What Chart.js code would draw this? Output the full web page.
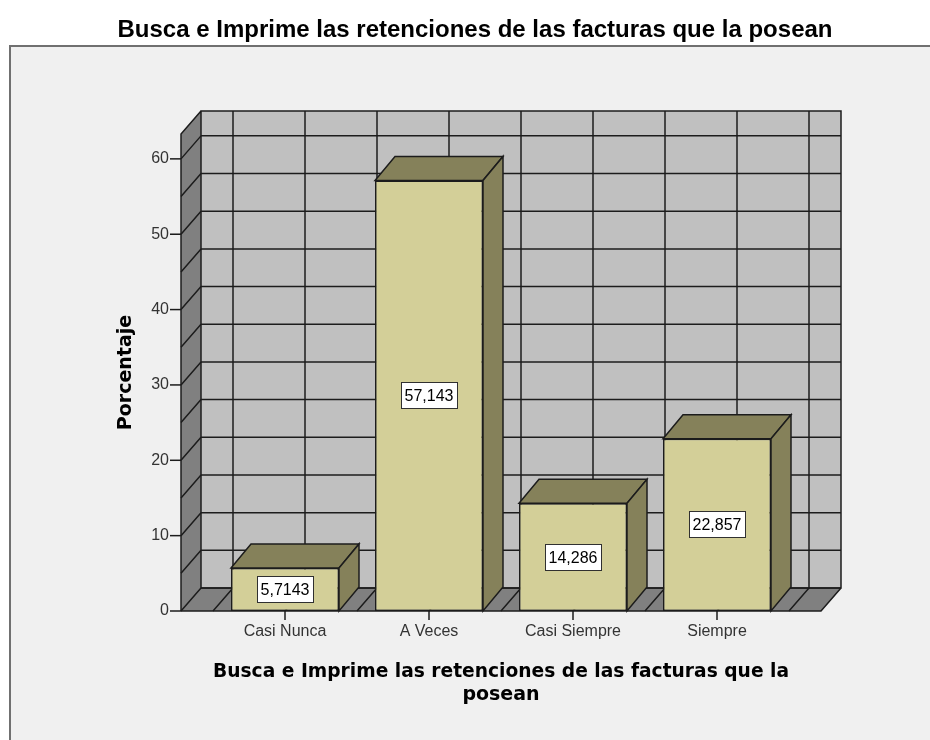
<!DOCTYPE html>
<html>
<head>
<meta charset="utf-8">
<script src="https://cdn.jsdelivr.net/npm/chart.js@4.4.1/dist/chart.umd.min.js"></script>
<style>
  html, body { margin: 0; padding: 0; background: #ffffff; }
  canvas { display: block; }
</style>
</head>
<body>
<canvas id="c" width="930" height="740"></canvas>
<script>
// ---- data ----
const categories = ['Casi Nunca', 'A Veces', 'Casi Siempre', 'Siempre'];
const percentages = [5.7143, 57.143, 14.286, 22.857];
const valueLabels = ['5,7143', '57,143', '14,286', '22,857'];
const yTicks = [0, 10, 20, 30, 40, 50, 60];
const yGridValues = [0, 5, 10, 15, 20, 25, 30, 35, 40, 45, 50, 55, 60];
const yMax = 63.3;
const chartTitle = 'Busca e Imprime las retenciones de las facturas que la posean';
const xTitle = ['Busca e Imprime las retenciones de las facturas que la', 'posean'];
const yTitle = 'Porcentaje';

// ---- style ----
const WALL_DX = 20, WALL_DY = -23;
const BAR_DX = 20, BAR_DY = -24;
const WALL_EXT = 32;
const LINE = '#1c1c1c';

const threeD = {
  id: 'threeD',
  beforeDraw(chart) {
    const ctx = chart.ctx;
    ctx.save();
    ctx.fillStyle = '#ffffff';
    ctx.fillRect(0, 0, chart.width, chart.height);
    ctx.fillStyle = '#f0f0f0';
    ctx.fillRect(9, 45, chart.width - 9, chart.height - 45);
    ctx.strokeStyle = '#707070';
    ctx.lineWidth = 2;
    ctx.beginPath();
    ctx.moveTo(10, chart.height);
    ctx.lineTo(10, 46);
    ctx.lineTo(chart.width, 46);
    ctx.stroke();
    ctx.restore();
  },
  beforeDatasetsDraw(chart) {
    const ctx = chart.ctx;
    const xs = chart.scales.x, ys = chart.scales.y;
    const cw = xs.getPixelForValue(1) - xs.getPixelForValue(0);
    const L = xs.left - WALL_EXT, R = xs.right + WALL_EXT;
    const B = ys.getPixelForValue(0), T = ys.top;
    ctx.save();
    ctx.lineJoin = 'miter';
    // back wall
    ctx.fillStyle = '#c0c0c0';
    ctx.fillRect(L + WALL_DX, T + WALL_DY, R - L, B - T);
    // left wall
    ctx.fillStyle = '#808080';
    ctx.beginPath();
    ctx.moveTo(L, B); ctx.lineTo(L, T); ctx.lineTo(L + WALL_DX, T + WALL_DY); ctx.lineTo(L + WALL_DX, B + WALL_DY); ctx.closePath();
    ctx.fill();
    // floor
    ctx.beginPath();
    ctx.moveTo(L, B); ctx.lineTo(R, B); ctx.lineTo(R + WALL_DX, B + WALL_DY); ctx.lineTo(L + WALL_DX, B + WALL_DY); ctx.closePath();
    ctx.fill();

    ctx.strokeStyle = LINE;
    ctx.lineWidth = 1.5;
    // horizontal grid on back wall + diagonals on left wall
    yGridValues.forEach(v => {
      const y = ys.getPixelForValue(v);
      ctx.beginPath();
      ctx.moveTo(L + WALL_DX, y + WALL_DY); ctx.lineTo(R + WALL_DX, y + WALL_DY);
      ctx.moveTo(L, y); ctx.lineTo(L + WALL_DX, y + WALL_DY);
      ctx.stroke();
    });
    // vertical grid on back wall + diagonals on floor
    for (let i = 0; i <= categories.length * 2; i++) {
      const x = xs.left + i * cw / 2;
      ctx.beginPath();
      ctx.moveTo(x + WALL_DX, T + WALL_DY); ctx.lineTo(x + WALL_DX, B + WALL_DY);
      ctx.moveTo(x, B); ctx.lineTo(x + WALL_DX, B + WALL_DY);
      ctx.stroke();
    }
    // outlines
    ctx.beginPath();
    ctx.rect(L + WALL_DX, T + WALL_DY, R - L, B - T);
    ctx.moveTo(L, B); ctx.lineTo(L, T); ctx.lineTo(L + WALL_DX, T + WALL_DY);
    ctx.moveTo(L, B); ctx.lineTo(R, B); ctx.lineTo(R + WALL_DX, B + WALL_DY);
    ctx.stroke();
    // y tick marks
    yTicks.forEach(v => {
      const y = ys.getPixelForValue(v);
      ctx.beginPath(); ctx.moveTo(L - 11, y); ctx.lineTo(L, y); ctx.stroke();
    });
    // x tick marks
    categories.forEach((c, i) => {
      const x = xs.getPixelForValue(i);
      ctx.beginPath(); ctx.moveTo(x, B); ctx.lineTo(x, B + 9); ctx.stroke();
    });
    // bar top and side faces
    const meta = chart.getDatasetMeta(0);
    ctx.fillStyle = '#85815a';
    meta.data.forEach(bar => {
      const xl = bar.x - bar.width / 2, xr = bar.x + bar.width / 2;
      const yt = bar.y, yb = bar.base;
      ctx.beginPath();
      ctx.moveTo(xl, yt); ctx.lineTo(xr, yt); ctx.lineTo(xr + BAR_DX, yt + BAR_DY); ctx.lineTo(xl + BAR_DX, yt + BAR_DY); ctx.closePath();
      ctx.fill(); ctx.stroke();
      ctx.beginPath();
      ctx.moveTo(xr, yt); ctx.lineTo(xr, yb); ctx.lineTo(xr + BAR_DX, yb + BAR_DY); ctx.lineTo(xr + BAR_DX, yt + BAR_DY); ctx.closePath();
      ctx.fill(); ctx.stroke();
    });
    ctx.restore();
  },
  afterDatasetsDraw(chart) {
    const ctx = chart.ctx;
    const meta = chart.getDatasetMeta(0);
    ctx.save();
    ctx.font = '16px "Liberation Sans", Arial, sans-serif';
    ctx.textAlign = 'center';
    ctx.textBaseline = 'middle';
    meta.data.forEach((bar, i) => {
      const txt = valueLabels[i];
      const w = ctx.measureText(txt).width + 8;
      const h = 27;
      const cx = bar.x, cy = (bar.y + bar.base) / 2;
      ctx.fillStyle = '#ffffff';
      ctx.fillRect(Math.round(cx - w / 2), Math.round(cy - h / 2), Math.round(w), h);
      ctx.strokeStyle = '#303030';
      ctx.lineWidth = 1;
      ctx.strokeRect(Math.round(cx - w / 2) + 0.5, Math.round(cy - h / 2) + 0.5, Math.round(w) - 1, h - 1);
      ctx.fillStyle = '#000000';
      ctx.fillText(txt, cx, cy + 1);
    });
    ctx.restore();
  }
};

new Chart(document.getElementById('c'), {
  type: 'bar',
  data: {
    labels: categories,
    datasets: [{
      data: percentages,
      backgroundColor: '#d3cf98',
      borderColor: '#1c1c1c',
      borderWidth: 1.5,
      borderSkipped: false,
      categoryPercentage: 1,
      barPercentage: 0.75
    }]
  },
  options: {
    responsive: false,
    animation: false,
    devicePixelRatio: 1,
    layout: { padding: { left: 20, right: 0, top: 0, bottom: 0 } },
    plugins: {
      legend: { display: false },
      tooltip: { enabled: false },
      title: {
        display: true,
        text: chartTitle,
        color: '#000000',
        font: { family: '"Liberation Sans", Arial, sans-serif', size: 24, weight: 'bold' },
        padding: { top: 16, bottom: 89.2 }
      }
    },
    scales: {
      x: {
        type: 'category',
        offset: true,
        grid: { display: false, drawTicks: false },
        border: { display: false },
        ticks: { padding: 11, color: '#333333', font: { family: '"Liberation Sans", Arial, sans-serif', size: 16 } },
        title: {
          display: true,
          text: xTitle,
          color: '#000000',
          font: { family: '"DejaVu Sans", sans-serif', size: 19, weight: 'bold' },
          padding: { top: 0, bottom: 34 }
        },
        afterFit: s => { s.height = 129; }
      },
      y: {
        min: 0,
        max: yMax,
        grid: { display: false, drawTicks: false },
        border: { display: false },
        ticks: { padding: 44, color: '#333333', font: { family: '"Liberation Sans", Arial, sans-serif', size: 16 } },
        afterBuildTicks: s => { s.ticks = yTicks.map(v => ({ value: v })); },
        title: {
          display: true,
          text: yTitle,
          color: '#000000',
          font: { family: '"DejaVu Sans", sans-serif', size: 19, weight: 'bold' },
          padding: { top: 94.7, bottom: 0 }
        },
        afterFit: s => { s.width = 193; }
      },
      yR: {
        position: 'right',
        display: true,
        grid: { display: false, drawTicks: false },
        border: { display: false },
        ticks: { display: false },
        afterFit: s => { s.width = 141; }
      }
    }
  },
  plugins: [threeD]
});
</script>
</body>
</html>
